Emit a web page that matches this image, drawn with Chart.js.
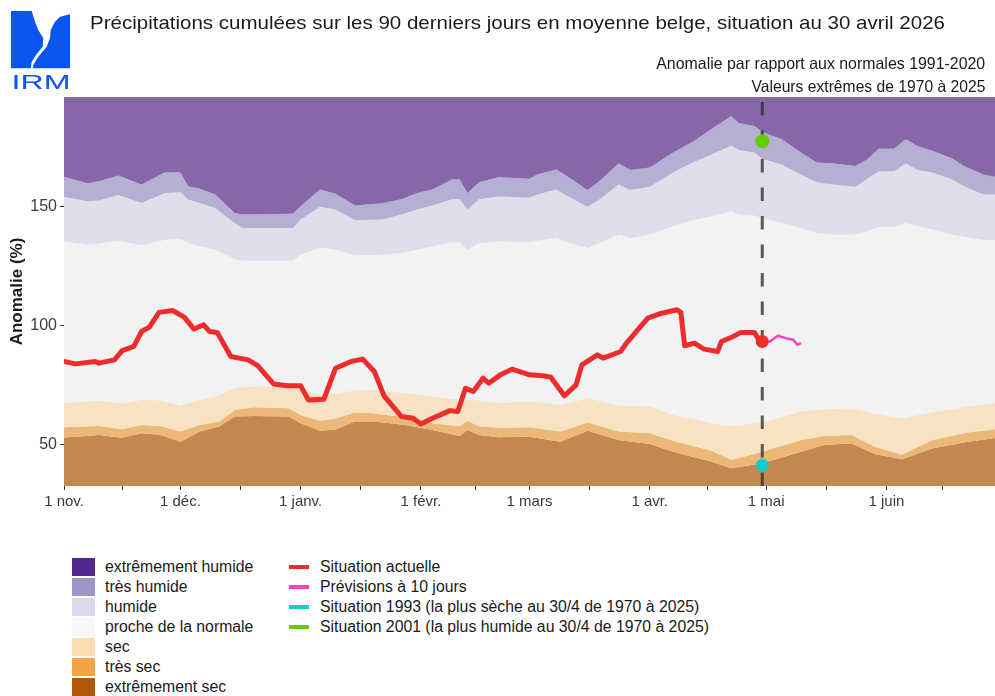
<!DOCTYPE html>
<html><head><meta charset="utf-8">
<script src="https://cdn.jsdelivr.net/npm/chart.js@4.4.1/dist/chart.umd.min.js"></script>
<style>
html,body{margin:0;padding:0;background:#fff;}
body{width:995px;height:696px;position:relative;overflow:hidden;font-family:"Liberation Sans",Arial,sans-serif;color:#1a1a1a;}
.t{position:absolute;white-space:nowrap;line-height:1;}
#wrap{position:absolute;left:0;top:0;width:995px;height:530px;}
.sw{position:absolute;width:23px;height:18px;}
.ln{position:absolute;width:20px;height:4px;}
.lt{position:absolute;white-space:nowrap;line-height:1;font-size:16px;transform-origin:left center;}
</style></head><body>
<div id="wrap"><canvas id="c" width="995" height="530"></canvas></div>
<svg width="80" height="95" viewBox="0 0 80 95" style="position:absolute;left:0;top:0">
<path fill="#0a55ef" d="M11,11 L31.7,11 L35,21.7 L38.3,30 L43.3,38.3 L42.7,46.7 L36,55 L31.7,61.7 L30.7,68.3 L11,68.3 Z"/>
<path fill="#0a55ef" d="M70,14.3 L70,68.3 L32.7,68.3 L33.3,65 L38.3,56.7 L46.7,46.7 L50,38.3 L50.7,30 L55,21.7 L60,16.7 Z"/>
<text x="11.5" y="88.5" font-family="Liberation Sans" font-size="21" fill="#0a55ef" textLength="59" lengthAdjust="spacingAndGlyphs">IRM</text>
</svg>
<div class="t" id="title" style="left:90px;top:13px;font-size:19px;transform-origin:left center;">Précipitations cumulées sur les 90 derniers jours en moyenne belge, situation au 30 avril 2026</div>
<div class="t" id="sub1" style="right:10px;top:55px;font-size:16.5px;transform-origin:right center;">Anomalie par rapport aux normales 1991-2020</div>
<div class="t" id="sub2" style="right:10px;top:78px;font-size:16.5px;transform-origin:right center;">Valeurs extrêmes de 1970 à 2025</div>
<div id="legend"></div>
<script>
// ---- data ----
const monthDays = [0, 30, 61, 92, 120, 151, 181, 212];
const monthLabels = ['1 nov.', '1 déc.', '1 janv.', '1 févr.', '1 mars', '1 avr.', '1 mai', '1 juin'];
const yTickValues = [50, 100, 150];

// upper class limits (days since 1 Nov)
const daysUp = [0,6,9,14,20,26,30,32,35,39,44,46,59,61,66,70,75,82,87,91,95,100,102,104,107,112,120,122,127,129,135,138,143,146,151,157,162,167,172,174,178,180,185,190,194,198,204,207,210,214,217,220,224,229,232,237,240];
const limExtHumide = [162.5,159.7,160.6,163.0,159.2,164.2,164.4,158.5,157.4,155.0,147.3,146.6,147.0,150.1,157.1,155.3,150.4,151.3,153.0,155.7,157.1,161.3,161.3,155.7,160.2,162.3,161.6,163.4,165.5,163.4,156.9,160.6,168.1,165.3,166.3,172.6,177.0,182.6,187.9,184.9,183.7,181.2,178.2,172.6,168.4,168.1,167.0,169.7,174.2,174.2,178.2,175.4,173.3,170.1,167.0,163.4,162.5];
const limTresHumide = [154.1,152.2,152.5,154.8,151.5,155.7,156.0,152.9,151.5,149.4,143.1,141.0,141.0,144.5,149.9,148.7,144.2,144.5,146.6,148.7,150.4,153.0,153.0,148.7,153.0,154.2,153.7,155.0,157.1,155.0,149.9,152.9,159.2,156.9,158.3,164.2,168.4,171.8,175.6,173.7,172.6,170.0,167.6,163.4,160.2,159.2,158.3,161.5,164.8,164.8,168.1,165.3,164.2,161.3,158.5,155.0,155.0];
const limHumide = [135.4,134.0,134.5,135.6,133.7,136.1,136.4,134.7,133.3,131.9,128.0,127.3,127.3,129.8,132.9,131.9,129.5,129.8,130.5,131.9,133.3,135.0,135.0,131.9,134.7,135.4,135.0,135.6,136.8,135.4,132.6,134.7,138.2,136.8,138.2,141.7,144.2,145.9,148.0,146.6,146.2,145.2,143.1,141.0,138.9,138.2,138.2,139.5,141.5,141.5,143.1,141.7,140.3,138.2,137.3,135.9,135.9];

// lower class limits
const daysLow = [0,9,15,20,25,30,35,40,44,49,58,61,66,70,75,80,83,88,95,102,104,107,112,120,128,135,143,151,157,167,172,180,190,196,203,209,216,224,233,240];
const limSec = [67.5,68.6,67.2,68.9,68.6,66.4,68.9,70.6,73.8,74.5,74.1,72.8,71.0,71.4,72.8,73.1,72.4,71.7,70.3,68.9,68.9,68.6,67.5,68.2,66.8,69.6,66.4,66.1,62.6,59.1,57.7,59.4,64.0,65.0,65.4,63.0,61.2,63.6,66.1,67.5];
const limTresSec = [57.4,58.0,56.6,58.4,57.8,55.6,58.4,59.8,64.7,65.8,65.4,62.6,60.2,61.1,63.6,63.3,62.6,61.9,59.1,57.8,60.2,57.8,57.2,57.4,55.6,59.4,55.6,54.9,51.8,47.6,43.7,47.2,52.1,53.8,54.2,49.3,46.0,52.1,55.2,56.6];
const limExtSec = [53.1,54.2,53.0,54.9,54.2,51.4,55.6,57.7,61.9,62.2,61.9,59.1,56.0,56.5,59.8,59.8,59.3,58.4,56.3,53.8,56.3,54.2,53.2,53.5,51.4,56.0,52.1,50.4,47.2,43.0,40.2,42.3,47.2,50.0,50.7,46.2,44.0,48.6,51.4,52.9];

// current situation
const currentDays = [0,3,8,9,13,15,18,20,22,24.5,28,31,33.5,36,37.5,39.5,43,47.5,50,54,57.5,61,63,67,70,74,77,80,82.5,87,90,92,95,99.5,101.5,103.5,105.5,108,109.5,112.5,115.5,120,123.5,125.5,129,132,133.5,137.5,139,143.5,145,148.5,150.5,153.5,158,159,160,162.5,165,168.5,169.5,172.5,174.5,178,179.5,180];
const currentVals = [85.0,84.0,85.0,84.3,85.7,89.6,91.3,97.6,99.4,105.6,106.4,103.6,98.6,100.4,97.6,97.2,87.1,85.7,83.2,75.6,74.8,74.8,68.9,69.2,82.2,85.0,86.0,80.8,70.6,61.9,61.2,58.8,61.2,64.4,64.0,73.8,72.4,78.0,75.9,79.4,81.8,79.4,79.0,78.4,70.6,75.2,83.6,87.8,86.4,89.2,92.7,99.4,103.2,105.0,106.7,105.6,91.6,92.7,90.2,89.2,93.4,95.5,97.2,97.2,93.0,93.4];
const forecastDays = [180,182,184,186,188,189,190];
const forecastVals = [93.4,93.4,95.8,94.8,94.1,92.0,92.7];
const todayDay = 180;
const todayVal = 93.4;
const val1993 = 41.6;
const val2001 = 177.3;
const yMin = 32.8, yMax = 195.9, xMax = 240;

const bandNames = ['extrêmement humide','très humide','humide','proche de la normale','sec','très sec','extrêmement sec'];
const bandLegendColors = ['#54278f','#9e94c6','#dadaeb','#f7f7f7','#fddcb2','#f2a444','#b35806'];
const bandPlotColors = ['#8667a8','#b5afd3','#dfdeeb','#f2f2f2','#f7e2c4','#ecb878','#c4884f'];
const lineNames = ['Situation actuelle','Prévisions à 10 jours','Situation 1993 (la plus sèche au 30/4 de 1970 à 2025)','Situation 2001 (la plus humide au 30/4 de 1970 à 2025)'];
const lineColors = ['#ee2c2c','#ff3ec8','#14cccc','#66cc00'];

// ---- legend ----
const leg = document.getElementById('legend');
bandNames.forEach((n,i)=>{
  const s=document.createElement('div'); s.className='sw'; s.style.left='72px'; s.style.top=(558+20*i)+'px'; s.style.background=bandLegendColors[i]; leg.appendChild(s);
  const t=document.createElement('div'); t.className='lt'; t.textContent=n; t.style.left='105px'; t.style.top=(559+20*i)+'px'; leg.appendChild(t);
});
const lineTexts=[];
lineNames.forEach((n,i)=>{
  const s=document.createElement('div'); s.className='ln'; s.style.left='289px'; s.style.top=(565+20*i)+'px'; s.style.background=lineColors[i]; leg.appendChild(s);
  const t=document.createElement('div'); t.className='lt'; t.textContent=n; t.style.left='320px'; t.style.top=(559+20*i)+'px'; leg.appendChild(t); lineTexts.push(t);
});
function fit(id,w){const el=document.getElementById(id);const r=el.getBoundingClientRect().width;el.style.transform='scaleX('+(w/r)+')';}
fit('title',855); fit('sub1',329); fit('sub2',234);
const k = 389/lineTexts[3].getBoundingClientRect().width;
document.querySelectorAll('.lt').forEach(e=>e.style.transform='scaleX('+k+')');

// ---- chart ----
Chart.defaults.font.family = "'Liberation Sans', Arial, sans-serif";
const pts=(xs,ys)=>xs.map((x,i)=>({x:x,y:ys[i]}));
const band=(xs,ys,fill,color)=>({data:pts(xs,ys),fill:fill,backgroundColor:color,borderColor:'rgba(0,0,0,0)',borderWidth:0,pointRadius:0,order:10,tension:0});
const minorDays = monthDays.map((d,i)=> i<monthDays.length-1 ? (d+monthDays[i+1])/2 : null).filter(v=>v!==null);
minorDays.push(226.5);
const allTicks = monthDays.concat(minorDays).sort((a,b)=>a-b);

const bgPlugin={id:'bg',beforeDraw(chart){const a=chart.chartArea;const c=chart.ctx;c.save();c.fillStyle=bandPlotColors[3];c.fillRect(a.left,a.top,a.right-a.left,a.bottom-a.top);c.restore();}};

new Chart(document.getElementById('c'),{
  type:'line',
  data:{datasets:[
    band(daysUp,limExtHumide,'end',bandPlotColors[0]),
    band(daysUp,limTresHumide,'-1',bandPlotColors[1]),
    band(daysUp,limHumide,'-1',bandPlotColors[2]),
    band(daysLow,limSec,false,'rgba(0,0,0,0)'),
    band(daysLow,limTresSec,'-1',bandPlotColors[4]),
    band(daysLow,limExtSec,'-1',bandPlotColors[5]),
    band(daysLow,limExtSec,'start',bandPlotColors[6]),
    {data:[{x:todayDay,y:yMin},{x:todayDay,y:yMax}],borderColor:'rgba(50,50,50,0.8)',borderWidth:3,borderDash:[13.5,15],pointRadius:0,fill:false,order:5},
    {data:pts(currentDays,currentVals),borderColor:lineColors[0],borderWidth:5,pointRadius:0,fill:false,order:4,borderJoinStyle:'round',borderCapStyle:'round',tension:0},
    {data:pts(forecastDays,forecastVals),borderColor:lineColors[1],borderWidth:2.5,pointRadius:0,fill:false,order:3,borderJoinStyle:'round',tension:0},
    {data:[{x:todayDay,y:todayVal}],showLine:false,pointRadius:6.5,pointBackgroundColor:lineColors[0],pointBorderWidth:0,order:1},
    {data:[{x:todayDay,y:val1993}],showLine:false,pointRadius:6.5,pointBackgroundColor:lineColors[2],pointBorderWidth:0,order:1},
    {data:[{x:todayDay,y:val2001}],showLine:false,pointRadius:7,pointBackgroundColor:lineColors[3],pointBorderWidth:0,order:1}
  ]},
  options:{
    responsive:false,animation:false,devicePixelRatio:1,
    layout:{autoPadding:false,padding:{top:97,left:0,right:0,bottom:0}},
    plugins:{legend:{display:false},tooltip:{enabled:false}},
    scales:{
      x:{type:'linear',min:0,max:xMax,z:1,
        afterBuildTicks:s=>{s.ticks=allTicks.map(v=>({value:v}));},
        afterFit:s=>{s.height=44;},
        grid:{color:'rgba(255,255,255,0.18)',lineWidth:1,tickLength:4,tickColor:'#333',tickWidth:1},
        border:{display:false},
        ticks:{autoSkip:false,maxRotation:0,padding:3,color:'#3a3a3a',font:{size:15},
          callback:v=>{const i=monthDays.indexOf(v);return i>=0?monthLabels[i]:'';}}
      },
      y:{type:'linear',min:yMin,max:yMax,
        afterBuildTicks:s=>{s.ticks=yTickValues.map(v=>({value:v}));},
        afterFit:s=>{s.width=64;},
        grid:{drawOnChartArea:false,tickLength:4,tickColor:'#333'},
        border:{display:false},
        ticks:{padding:3,color:'#3a3a3a',font:{size:16}},
        title:{display:true,text:'Anomalie (%)',color:'#1a1a1a',font:{size:17,weight:'bold'},padding:{top:7,bottom:0}}
      }
    }
  },
  plugins:[bgPlugin]
});
</script>
</body></html>
